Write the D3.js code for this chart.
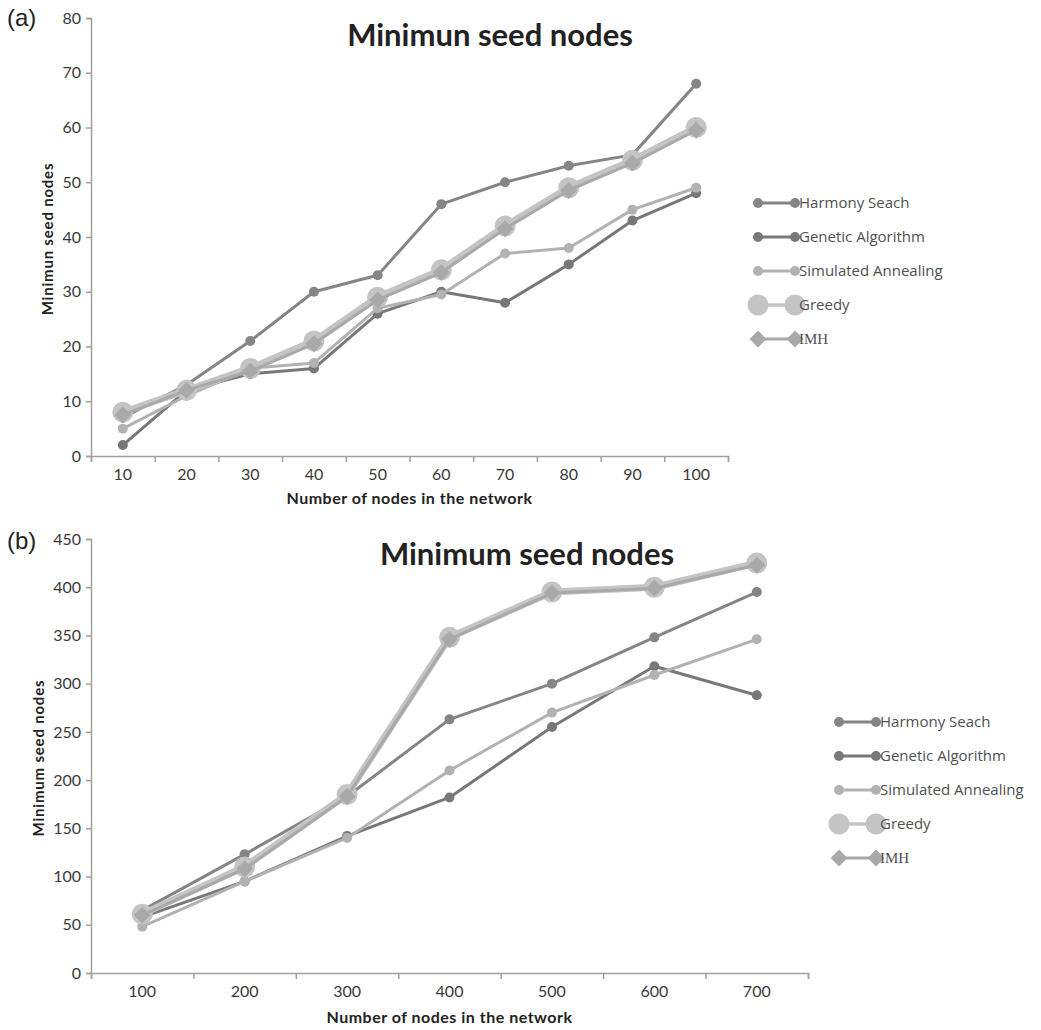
<!DOCTYPE html>
<html>
<head>
<meta charset="utf-8">
<script src="https://cdnjs.cloudflare.com/ajax/libs/d3/7.8.5/d3.min.js"></script>
<style>
    body { margin: 0; background: #fff; }
    svg { display: block; }
    .tick text { font-family: Lato, "Open Sans", sans-serif; fill: #3a3a3a; }
</style>
</head>
<body>
<svg id="chart" width="1041" height="1030"></svg>
<script>

//  panel (a) : networks of 10 - 100 nodes
var a_nodes = [10, 20, 30, 40, 50, 60, 70, 80, 90, 100];
var a_harmony = [7, 13, 21, 30, 33, 46, 50, 53, 55, 68];
var a_genetic = [2, 12, 15, 16, 26, 30, 28, 35, 43, 48];
var a_annealing = [5, 11, 16, 17, 27, 29.5, 37, 38, 45, 49];
var a_greedy = [8, 12, 16, 21, 29, 34, 42, 49, 54, 60];
var a_imh = [7.5, 12, 15.5, 20.5, 28.5, 33.5, 41.5, 48.5, 53.5, 59.5];
var a_yticks = [0, 10, 20, 30, 40, 50, 60, 70, 80];

//  panel (b) : networks of 100 - 700 nodes
var b_nodes = [100, 200, 300, 400, 500, 600, 700];
var b_harmony = [65, 123, 183, 263, 300, 348, 395];
var b_genetic = [58, 95, 142, 182, 255, 318, 288];
var b_annealing = [48, 95, 140, 210, 270, 309, 346];
var b_greedy = [61, 110, 185, 348, 395, 400, 425];
var b_imh = [60, 108, 183, 346, 394, 399, 423];
var b_yticks = [0, 50, 100, 150, 200, 250, 300, 350, 400, 450];

var series_names = ['Harmony Seach', 'Genetic Algorithm', 'Simulated Annealing', 'Greedy', 'IMH'];

//  styles per series (same order as series_names)
var styles = [
    { color: '#858585', width: 3, marker: 'circle', size: 5 },
    { color: '#787878', width: 3, marker: 'circle', size: 5 },
    { color: '#b2b2b2', width: 3, marker: 'circle', size: 5 },
    { color: '#c4c4c4', width: 7, marker: 'circle', size: 10.5 },
    { color: '#a9a9a9', width: 3, marker: 'diamond', size: 9.5 }
];

var panels = [
    {
        label: '(a)', title: 'Minimun seed nodes', ytitle: 'Minimun seed nodes',
        nodes: a_nodes, values: [a_harmony, a_genetic, a_annealing, a_greedy, a_imh], yticks: a_yticks,
        x0: 91, x1: 728, ytop: 18, ybottom: 456,
        titleX: 490, titleY: 46, ytitleX: 53, labelY: 26, xtitleDy: 48,
        legendX: 758, legendY: 203
    },
    {
        label: '(b)', title: 'Minimum seed nodes', ytitle: 'Minimum seed nodes',
        nodes: b_nodes, values: [b_harmony, b_genetic, b_annealing, b_greedy, b_imh], yticks: b_yticks,
        x0: 91, x1: 808, ytop: 539, ybottom: 973,
        titleX: 527, titleY: 565, ytitleX: 44, labelY: 549, xtitleDy: 50,
        legendX: 839, legendY: 722
    }
];

var svg = d3.select('#chart');

svg.append('rect').attr('width', 1041).attr('height', 1030).attr('fill', '#fff');

for (var i = 0; i < panels.length; i++) {
    drawPanel(panels[i]);
}


function drawPanel(p) {

    var g = svg.append('g');

    var x = d3.scaleBand()
        .domain(p.nodes)
        .range([p.x0, p.x1]);

    var y = d3.scaleLinear()
        .domain([0, d3.max(p.yticks)])
        .range([p.ybottom, p.ytop]);

    //  boundary ticks sit between the categories, like excel
    var xb = d3.scaleLinear()
        .domain([0, p.nodes.length])
        .range([p.x0, p.x1]);

    var yaxis = g.append('g')
        .attr('transform', 'translate(' + p.x0 + ',0)')
        .call(d3.axisLeft(y).tickValues(p.yticks).tickSize(5).tickPadding(5));

    var xticks = g.append('g')
        .attr('transform', 'translate(0,' + p.ybottom + ')')
        .call(d3.axisBottom(xb).ticks(p.nodes.length).tickSize(6).tickFormat(''));

    var xlabels = g.append('g')
        .attr('transform', 'translate(0,' + p.ybottom + ')')
        .call(d3.axisBottom(x).tickSize(0).tickPadding(13));

    xlabels.select('.domain').remove();

    [yaxis, xticks].forEach(function(a) {
        a.selectAll('path, line').attr('stroke', '#a0a0a0').attr('stroke-width', 1.5);
    });

    g.selectAll('.tick text').attr('font-size', 16);

    //  titles
    g.append('text')
        .attr('x', 7).attr('y', p.labelY)
        .attr('font-family', 'Liberation Sans, Arial, sans-serif')
        .attr('font-size', 24)
        .attr('fill', '#222')
        .text(p.label);

    g.append('text')
        .attr('x', p.titleX).attr('y', p.titleY)
        .attr('text-anchor', 'middle')
        .attr('font-family', 'Lato, sans-serif')
        .attr('font-weight', 'bold')
        .attr('font-size', 31)
        .attr('fill', '#222')
        .text(p.title);

    g.append('text')
        .attr('x', (p.x0 + p.x1) / 2).attr('y', p.ybottom + p.xtitleDy)
        .attr('text-anchor', 'middle')
        .attr('font-family', 'Lato, sans-serif')
        .attr('font-weight', 'bold')
        .attr('font-size', 16)
        .attr('letter-spacing', 0.5)
        .attr('fill', '#222')
        .text('Number of nodes in the network');

    g.append('text')
        .attr('transform', 'translate(' + p.ytitleX + ',' + ((p.ytop + p.ybottom) / 2 + 2) + ') rotate(-90)')
        .attr('text-anchor', 'middle')
        .attr('font-family', 'Lato, sans-serif')
        .attr('font-weight', 'bold')
        .attr('font-size', 15)
        .attr('letter-spacing', 0.8)
        .attr('fill', '#222')
        .text(p.ytitle);

    //  lines and markers
    var line = d3.line()
        .x(function(d, j) { return x(p.nodes[j]) + x.bandwidth() / 2; })
        .y(function(d) { return y(d); });

    for (var s = 0; s < p.values.length; s++) {

        var st = styles[s];

        g.append('path')
            .datum(p.values[s])
            .attr('d', line)
            .attr('fill', 'none')
            .attr('stroke', st.color)
            .attr('stroke-width', st.width)
            .attr('stroke-linejoin', 'round');

        drawMarkers(g, p.values[s].map(function(d, j) {
            return [x(p.nodes[j]) + x.bandwidth() / 2, y(d)];
        }), st);
    }

    //  legend
    for (var k = 0; k < series_names.length; k++) {

        var ly = p.legendY + k * 34;
        var st = styles[k];

        g.append('line')
            .attr('x1', p.legendX).attr('x2', p.legendX + 37)
            .attr('y1', ly).attr('y2', ly)
            .attr('stroke', st.color)
            .attr('stroke-width', Math.min(st.width, 3.5));

        drawMarkers(g, [[p.legendX, ly], [p.legendX + 37, ly]], st);

        g.append('text')
            .attr('x', p.legendX + 41).attr('y', ly + 5)
            .attr('font-family', series_names[k] == 'IMH' ? 'Liberation Serif, serif' : '"Open Sans", Lato, sans-serif')
            .attr('font-size', 15)
            .attr('fill', '#505050')
            .text(series_names[k]);
    }
}


function drawMarkers(g, pts, st) {

    if (st.marker == 'circle') {
        g.selectAll(null)
            .data(pts)
            .enter()
            .append('circle')
            .attr('cx', function(d) { return d[0]; })
            .attr('cy', function(d) { return d[1]; })
            .attr('r', st.size)
            .attr('fill', st.color);
    } else {
        //  symbolDiamond2 is already a square turned on its corner
        var sym = d3.symbol().type(d3.symbolDiamond2).size(st.size * st.size * 2);
        g.selectAll(null)
            .data(pts)
            .enter()
            .append('path')
            .attr('d', sym)
            .attr('transform', function(d) { return 'translate(' + d[0] + ',' + d[1] + ')'; })
            .attr('fill', st.color);
    }
}

</script>
</body>
</html>
